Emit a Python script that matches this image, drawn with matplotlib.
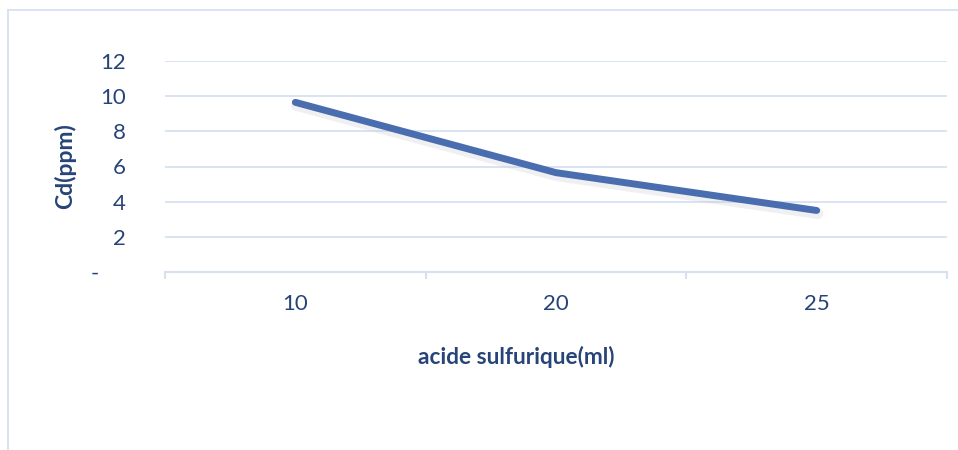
import matplotlib.pyplot as plt
import matplotlib.transforms as mtransforms
from matplotlib.lines import Line2D

# Données
categories = ["10", "20", "25"]
cd_ppm = [9.65, 5.65, 3.5]
y_ticks = [0, 2, 4, 6, 8, 10, 12]
y_labels = ["-", "2", "4", "6", "8", "10", "12"]

text_col = "#264478"
grid_col = "#d6e0f0"
line_col = "#4a6db0"

plt.rcParams["font.family"] = ["Lato", "DejaVu Sans"]

fig = plt.figure(figsize=(9.58, 4.5), dpi=100)
ax = fig.add_axes([165 / 958, 1 - 272 / 450, (947 - 165) / 958, (272 - 61) / 450])

x = list(range(len(categories)))

# ombre légère sous la courbe
shadow = ax.transData + mtransforms.ScaledTranslation(1 / 100, -3 / 100, fig.dpi_scale_trans)
ax.plot(x, cd_ppm, color="#c4c7cf", linewidth=8, alpha=0.25, transform=shadow,
        solid_capstyle="round", zorder=2)
ax.plot(x, cd_ppm, color=line_col, linewidth=5, solid_capstyle="round", zorder=3)

ax.set_xlim(-0.5, len(categories) - 0.5)
ax.set_ylim(0, 12)
ax.set_yticks(y_ticks)
ax.set_yticklabels(y_labels)
ax.set_xticks(x)
ax.set_xticklabels(categories)
ax.set_xticks([i - 0.5 for i in range(len(categories) + 1)], minor=True)

ax.grid(axis="y", color=grid_col, linewidth=1.3)
ax.set_axisbelow(True)
for s in ["top", "right", "left"]:
    ax.spines[s].set_visible(False)
ax.spines["bottom"].set_color(grid_col)
ax.spines["bottom"].set_linewidth(1.5)

ax.tick_params(axis="y", length=0, pad=28, labelsize=16, labelcolor=text_col)
ax.tick_params(axis="x", which="major", length=0, pad=16, labelsize=16, labelcolor=text_col)
ax.tick_params(axis="x", which="minor", length=5, width=1.5, color=grid_col)

# le "-" du zéro est décalé vers la gauche (format comptable)
lbl0 = ax.get_yticklabels()[0]
lbl0.set_transform(lbl0.get_transform() + mtransforms.ScaledTranslation(-27 / 100, 0, fig.dpi_scale_trans))

fig.text(65 / 958, 1 - 166 / 450, "Cd(ppm)", rotation=90, ha="center", va="center",
         fontsize=16.5, fontweight="bold", color=text_col)
fig.text(516 / 958, 1 - 357 / 450, "acide sulfurique(ml)", ha="center", va="center",
         fontsize=16.3, fontweight="bold", color=text_col)

# cadre de la zone de graphique
fig.add_artist(Line2D([8 / 958, 8 / 958], [0, 1 - 10 / 450], color=grid_col, linewidth=1.3))
fig.add_artist(Line2D([8 / 958, 1], [1 - 10 / 450, 1 - 10 / 450], color=grid_col, linewidth=1.3))

fig.savefig("out.png", dpi=100, facecolor="white")
